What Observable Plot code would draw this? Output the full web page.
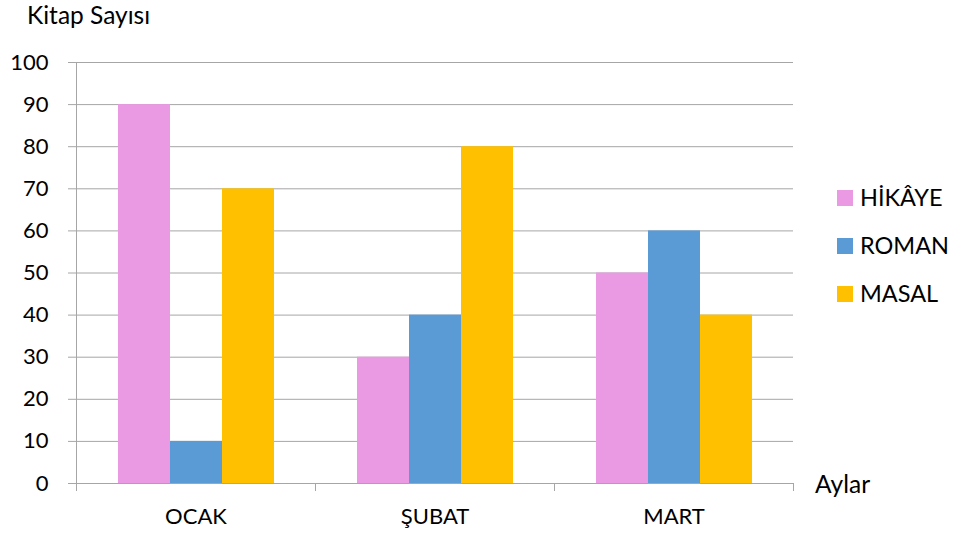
<!DOCTYPE html>
<html><head><meta charset="utf-8">
<script src="https://cdn.jsdelivr.net/npm/d3@7"></script>
<script src="https://cdn.jsdelivr.net/npm/@observablehq/plot@0.6"></script>
<style>
body{margin:0;background:#fff;font-family:Lato,"Open Sans",sans-serif;color:#000}
#wrap{position:relative;width:955px;height:537px;overflow:hidden}
.lbl{position:absolute;white-space:nowrap;font-size:21px;line-height:1}
.sw{position:absolute;width:16px;height:16px}
</style>
</head><body><div id="wrap"></div>
<script>
const months = ["OCAK", "ŞUBAT", "MART"];
const series = ["HİKÂYE", "ROMAN", "MASAL"];
const hikaye = [90, 30, 50];
const roman = [10, 40, 60];
const masal = [70, 80, 40];
const seriesColors = ["#EA9AE3", "#5B9BD5", "#FFC000"];
const yTicks = [0, 10, 20, 30, 40, 50, 60, 70, 80, 90, 100];
const yTitle = "Kitap Sayısı";
const xTitle = "Aylar";

const values = [hikaye, roman, masal];
const data = months.flatMap((m, i) => series.map((s, j) => ({month: m, series: s, value: values[j][i]})));

const W = 955, H = 537, ml = 76, mr = 162, mt = 62, mb = 54;
const step = (W - ml - mr) / months.length;
const gray = "#A6A6A6";

const chart = Plot.plot({
  width: W, height: H,
  marginLeft: ml, marginRight: mr, marginTop: mt, marginBottom: mb,
  style: {fontFamily: "Lato, 'Open Sans', sans-serif", fontSize: "22px", color: "#000", background: "#fff"},
  fx: {domain: months, padding: 0, label: null},
  x: {domain: series, paddingInner: 0, paddingOuter: 0.76, axis: null},
  y: {domain: [0, 100], label: null},
  color: {domain: series, range: seriesColors},
  marks: [
    Plot.gridY(yTicks, {stroke: gray, strokeOpacity: 1, strokeWidth: 1}),
    Plot.axisY(yTicks, {tickSize: 8, tickPadding: 20, stroke: gray, label: null, tickFormat: d => d, fill: "#000"}),
    Plot.barY(data, {fx: "month", x: "series", y: "value", fill: "series"}),
    Plot.frame({anchor: "left", facetAnchor: "left", stroke: gray}),
    Plot.axisFx({anchor: "bottom", tickSize: 0, tickPadding: 25, label: null, fill: "#000", fontSize: 22}),
    Plot.axisFx({anchor: "bottom", tickSize: 8, tickFormat: () => "", label: null, stroke: gray, dx: -step / 2}),
    Plot.axisFx({anchor: "bottom", tickSize: 8, tickFormat: () => "", label: null, stroke: gray, dx: step / 2})
  ]
});

const wrap = document.getElementById("wrap");
wrap.appendChild(chart);

function addLabel(text, left, top, size) {
  const d = document.createElement("div");
  d.className = "lbl";
  d.textContent = text;
  d.style.left = left + "px";
  d.style.top = top + "px";
  if (size) d.style.fontSize = size + "px";
  wrap.appendChild(d);
  return d;
}
addLabel(yTitle, 27, 3, 24.5);
addLabel(xTitle, 815, 472, 24.5);

const color = chart.scale("color");
series.forEach((s, i) => {
  const cy = 198 + i * 48;
  const sw = document.createElement("div");
  sw.className = "sw";
  sw.style.left = "837px";
  sw.style.top = (cy - 8) + "px";
  sw.style.background = color.apply(s);
  wrap.appendChild(sw);
  addLabel(s, 860, cy - 12, 23.5);
});
</script>
</body></html>
